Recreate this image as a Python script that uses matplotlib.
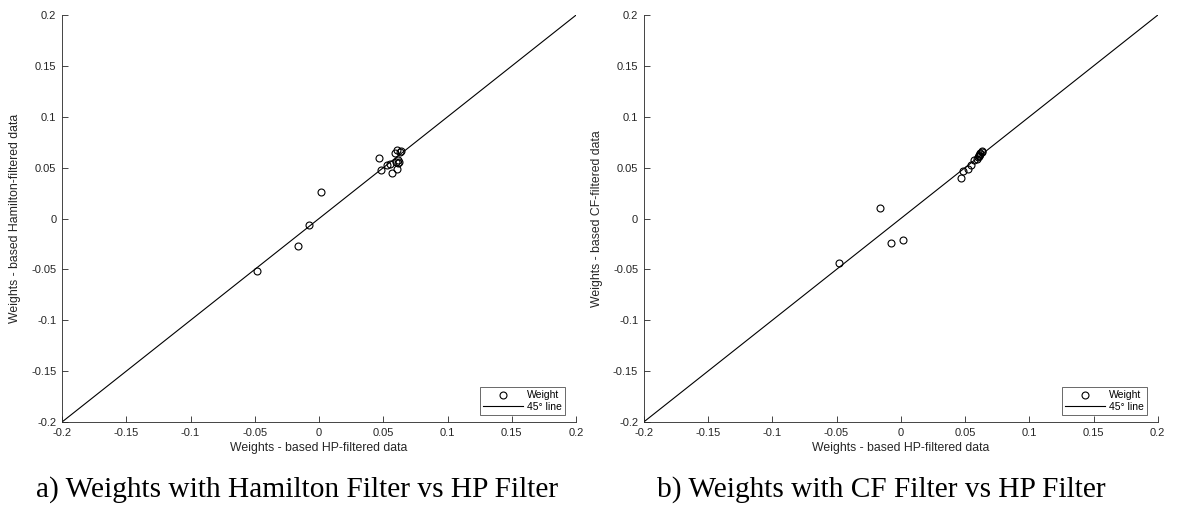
import matplotlib.pyplot as plt

# weights based on HP-filtered data (shared x axis)
hp = [-0.048, -0.0165, -0.0075, 0.0017, 0.0470, 0.0485, 0.0525, 0.0550, 0.0570,
      0.0590, 0.0600, 0.0605, 0.0610, 0.0612, 0.0615, 0.0620, 0.0630, 0.0635]
# weights based on Hamilton-filtered data
hamilton = [-0.052, -0.027, -0.006, 0.026, 0.0595, 0.0477, 0.0523, 0.0536, 0.045,
            0.064, 0.0558, 0.0673, 0.0487, 0.058, 0.0543, 0.0560, 0.0657, 0.066]
# weights based on CF-filtered data
cf = [-0.0437, 0.0106, -0.0244, -0.0208, 0.0398, 0.0464, 0.0483, 0.0526, 0.0575,
      0.0585, 0.0607, 0.0610, 0.0615, 0.0625, 0.0631, 0.0641, 0.0650, 0.0667]

ticks = [-0.2, -0.15, -0.1, -0.05, 0, 0.05, 0.1, 0.15, 0.2]
tick_labels = ['-0.2', '-0.15', '-0.1', '-0.05', '0', '0.05', '0.1', '0.15', '0.2']

panels = [
    (hamilton, 'Weights - based Hamilton-filtered data',
     'a) Weights with Hamilton Filter vs HP Filter', 0.0526, 36),
    (cf, 'Weights - based CF-filtered data',
     'b) Weights with CF Filter vs HP Filter', 0.546, 657),
]

plt.rcParams['font.family'] = ['Liberation Sans', 'DejaVu Sans']
fig = plt.figure(figsize=(11.79, 5.08), dpi=100)
axis_col = '#262626'

for yvals, ylabel, caption, left, cap_x in panels:
    ax = fig.add_axes([left, 0.1693, 0.436, 0.801])
    ax.plot(hp, yvals, 'o', mfc='none', mec='black', ms=5, mew=0.8, label='Weight')
    ax.plot([-0.2, 0.2], [-0.2, 0.2], color='black', lw=0.8, label='45° line')
    ax.set_xlim(-0.2, 0.2)
    ax.set_ylim(-0.2, 0.2)
    ax.set_xticks(ticks, tick_labels)
    ax.set_yticks(ticks, tick_labels)
    ax.tick_params(direction='in', length=4, width=0.6, labelsize=8,
                   colors=axis_col, pad=4)
    for s in ['top', 'right']:
        ax.spines[s].set_visible(False)
    for s in ['left', 'bottom']:
        ax.spines[s].set_color(axis_col)
        ax.spines[s].set_linewidth(0.6)
    ax.set_xlabel('Weights - based HP-filtered data', fontsize=8.8, color=axis_col, labelpad=3)
    ax.set_ylabel(ylabel, fontsize=8.8, color=axis_col, labelpad=7)
    leg = ax.legend(loc='lower right', bbox_to_anchor=(0.9786, 0.0172), borderaxespad=0,
                    fontsize=7.5, frameon=True, fancybox=False, edgecolor=axis_col,
                    handlelength=3.8, borderpad=0.3, labelspacing=0.15, handletextpad=0.4)
    leg.get_frame().set_linewidth(0.6)
    fig.text(cap_x / 1179, 1 - 497 / 508, caption, fontsize=21.2,
             family=['Liberation Serif', 'DejaVu Serif'], va='baseline', ha='left')

fig.savefig('out.png', dpi=100, facecolor='white')
